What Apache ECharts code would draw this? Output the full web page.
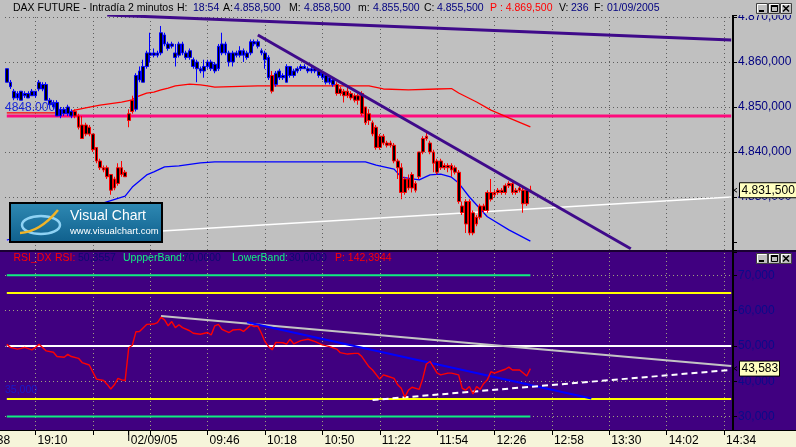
<!DOCTYPE html>
<html><head><meta charset="utf-8">
<script src="https://cdn.jsdelivr.net/npm/echarts@6/dist/echarts.min.js"></script>
<style>html,body{margin:0;padding:0;background:#c0c0c0;overflow:hidden}#c{width:796px;height:447px}</style>
</head><body><div id="c"></div>
<script>
// ---------------- DATA ----------------
const sessions = [
  { from: '18:54', bars: 34 },   // 01/09/2005 (2-minute bars)
  { from: '09:02', bars: 169 }   // 02/09/2005 (includes empty future slots)
];
const tickLabels = ['19:10','09:46','10:18','10:50','11:22','11:54','12:26','12:58','13:30','14:02','14:34'];
const minorTicks = ['19:42','09:14'];
const dateTick = { at: '09:02', label: '02/09/05' };
const edgeLabel = '18:38';

// [open, close, low, high]
const ohlc = [
 [4858.5,4855.5,4855.5,4858.5],[4855.5,4854.5,4854,4856],[4853.5,4852,4851.5,4854],[4852,4853,4851.5,4853.5],[4853.5,4851.5,4851.5,4853.5],
 [4852.5,4853,4852,4853.5],[4853,4852,4852,4853.5],[4852.5,4853.5,4852.5,4854],[4853.5,4852.5,4852,4853.5],[4854,4855.5,4853.5,4856],
 [4855,4854,4853.5,4855.5],[4855,4851.5,4851.5,4855.5],[4851.5,4850.5,4850,4852],[4851,4850,4849.5,4851.5],[4851,4848,4848,4851.5],
 [4848,4849.5,4847.5,4850],[4849.5,4848.5,4848,4850],[4848.5,4850,4848,4850.5],[4849,4848,4847.5,4849.5],[4848,4849,4847.5,4849.5],
 [4848,4845.5,4845,4848.5],[4846,4843,4843,4848],[4846,4844,4843.5,4846.5],[4845.5,4844,4843.5,4846],[4844,4840.5,4840,4844],
 [4841,4838,4837.5,4841],[4838,4836.5,4836,4838.5],[4836.5,4836,4835.5,4837],[4836.5,4834.5,4834,4837],[4835,4831.5,4830.5,4835],
 [4832,4834,4831.5,4834.5],[4833,4836.5,4832.5,4837.5],[4836.5,4835,4834.5,4838],[4835.5,4834.5,4834.5,4836],
 [4848.5,4847,4845.5,4849.5],[4849,4851.5,4848.5,4852.5],[4849.5,4857,4849,4857.5],[4856,4858,4855.5,4859],[4855.5,4859,4855.5,4860.5],
 [4859,4862,4858.5,4862.5],[4862,4861.5,4860,4866.5],[4861.5,4862,4861,4863],[4862,4861.5,4861,4862.5],[4862,4866.5,4861.5,4868],
 [4866,4864,4863.5,4866.5],[4864,4863,4862.5,4864.5],[4863.5,4864,4863,4864.5],[4862,4861,4859,4864],[4861.5,4864,4861,4864.5],
 [4864,4862,4861.5,4864.5],[4862,4861,4860.5,4862.5],[4861,4862.5,4860.5,4863],[4860.5,4859,4858.5,4861],[4860,4858.5,4855.5,4860.5],
 [4858.5,4858,4857.5,4859],[4858,4859,4856.5,4860.5],[4859,4860,4858.5,4860.5],[4860,4858.5,4858,4860.5],[4858,4859.5,4857.5,4860],
 [4858.5,4863.5,4858,4864],[4862,4864,4861.5,4866.5],[4864,4862,4861.5,4864.5],[4862,4860,4859,4862.5],[4860,4862,4859,4862.5],
 [4862,4861.5,4861,4862.5],[4861.5,4862.5,4861,4863.5],[4862.5,4861.5,4860,4863],[4862,4861,4860.5,4862.5],[4862,4864.5,4861.5,4865],
 [4864.5,4864,4863.5,4865],[4864.5,4863.5,4863,4865],[4862.5,4862,4861.5,4863],[4862,4860.5,4858.5,4862.5],[4861,4856.5,4856,4861.5],
 [4857,4853.5,4853,4858],[4855,4857.5,4854.5,4858],[4856.5,4858,4856,4858.5],[4857,4856.5,4856,4857.5],[4855.5,4859,4855.5,4859.5],
 [4859,4857,4856.5,4859],[4857,4858,4856.5,4858.5],[4858,4858.5,4857.5,4859],[4858.5,4859,4858,4859.5],[4859,4858.5,4858.5,4859.5],
 [4858.5,4858,4857.5,4859],[4858.5,4858,4857.5,4859],[4858,4858.5,4857.5,4859],[4858,4857,4856.5,4858.5],[4857.5,4856.5,4856,4858],
 [4857,4855.5,4855,4857.5],[4855.5,4856.5,4855,4857],[4856,4855,4854.5,4856.5],[4855,4853,4852.5,4855.5],[4853,4854,4852.5,4854.5],
 [4853.5,4852.5,4851,4854],[4852.5,4853.5,4852,4854.5],[4853,4852,4851.5,4853.5],[4852.5,4851.5,4851,4853],[4851.5,4852.5,4850.5,4853],
 [4853,4848.5,4848,4853.5],[4850,4846.5,4846,4850],[4847,4848.5,4846,4849.5],[4846.5,4844,4843.5,4847],[4845.5,4841,4840.5,4846],
 [4841,4843.5,4840.5,4844],[4843.5,4842,4841.5,4844],[4842,4841.5,4841,4842.5],[4841.5,4842,4841,4842.5],[4841.5,4838,4837.5,4842],
 [4838,4836.5,4834,4838.5],[4836.5,4831,4829.5,4837.5],[4831,4834,4830.5,4834.5],[4834,4832,4831.5,4835],[4832,4835,4831,4835.5],
 [4833,4831.5,4831,4833.5],[4834.5,4840,4834,4840],[4840,4843,4839.5,4843.5],[4843,4843.5,4842.5,4844.5],[4842,4840,4839.5,4842.5],
 [4840,4837.5,4835.5,4840.5],[4838,4835.5,4835,4838.5],[4836.5,4838,4836,4838.5],[4837,4836.5,4836,4837.5],[4836.5,4837,4835.5,4837.5],
 [4837,4836,4834.5,4837.5],[4836.5,4835.5,4835,4837],[4835.5,4829,4828.5,4836],[4828,4826.5,4826,4829],[4829,4824,4822,4829.5],
 [4829,4822,4821.5,4829.5],[4822,4826.5,4821.5,4827],[4825.5,4824,4823.5,4826],[4825.5,4828,4825,4828.5],[4828,4827,4826.5,4828.5],
 [4827,4831,4826.5,4831.5],[4831,4829.5,4829,4834],[4831,4830.5,4830,4831.5],[4831,4831.5,4830.5,4832],[4831.5,4831,4830.5,4832],
 [4831,4832.5,4830.5,4833],[4832.5,4833,4832,4833.5],[4833,4831,4830.5,4833.5],[4831,4831.5,4830.5,4832],[4831.5,4832,4831,4832.5],
 [4831.5,4828.5,4826.5,4832],[4828.5,4831.5,4828,4832],[4831.5,4831.5,4831,4832.5]
];
// bar index ranges drawn in red (others blue)
const redRanges = [[19,35],[74,74],[92,146]];

// [bar index, value] readings
const upperBand = [[0,4848.7],[17,4848.7],[19,4849.3],[22,4849.8],[26,4850.4],[32,4851.1],[35,4851.6],[36,4852.2],[39,4853.1],[41,4853.3],[43,4853.8],[45,4854.2],[47,4854.7],[51,4855.1],[54,4854.9],[56,4854.7],[58,4854.4],[65,4854.6],[70,4854.7],[101,4854.7],[105,4854],[112,4853.8],[120,4854],[124,4854.1],[126,4853.1],[131,4851.1],[135,4849.3],[140,4847.6],[146,4845.6]];
const lowerBand = [[0,4820.4],[6,4821.6],[15,4823.8],[23,4827.1],[27,4828.7],[33,4830.2],[35,4832.2],[39,4834.9],[41,4835.6],[44,4836.7],[48,4836.9],[54,4837.6],[58,4837.8],[100,4837.8],[103,4837.1],[108,4836.2],[110,4834.4],[115,4833.8],[118,4834.9],[121,4835.1],[124,4834.4],[126,4833.1],[129,4830],[134,4825.6],[140,4822.7],[146,4820.2]];
const longTrend = [[0,4820.4],[202,4830]];
const levelLine = 4848;
const resistance1 = [[70,4866],[174,4818.5]];
const resistance2 = [[28,4870.45],[202,4864.9]];
const priceTicks = [4830,4840,4850,4860,4870];
const lastClose = 4831.5;

const rsi = [[0,50.5],[1,49.6],[3,49.1],[4,49.3],[5,49.6],[7,48.9],[8,49.6],[9,50.5],[11,48.6],[13,48.2],[14,47],[16,46.8],[17,47.6],[18,47],[20,46.5],[21,45.3],[23,44.6],[25,40.6],[27,40.2],[28,39.1],[29,37.8],[30,39],[31,40.8],[32,40.4],[33,40.2],[34,49.5],[35,50.2],[36,54],[37,54.1],[39,56.1],[41,56.2],[42,56.6],[43,58.1],[44,57.4],[45,55.7],[46,56.9],[47,55.2],[48,56],[49,55.2],[51,54.3],[52,53.6],[54,53.3],[56,53.8],[57,53.1],[58,55.7],[59,56.1],[60,54.7],[62,53.8],[63,54.5],[65,54.7],[66,54.1],[68,55.9],[69,55.5],[70,55.6],[71,53.6],[72,51.2],[73,49.8],[74,48.9],[75,51],[77,50.9],[78,50.5],[79,51.9],[80,50.6],[82,51.5],[84,51.9],[86,51.2],[88,50.3],[90,49.8],[92,49.1],[93,48.1],[95,47.7],[97,47.9],[98,47.9],[99,47],[101,44.1],[102,43.2],[104,40.6],[105,41.8],[106,41.5],[108,40.8],[109,39],[110,38],[111,35.5],[112,37.5],[113,38.3],[115,37.7],[116,40.8],[117,44.9],[118,45.6],[119,44],[120,42.3],[121,41.8],[123,42.3],[124,42.3],[126,41.8],[127,38],[128,37.5],[129,38.5],[130,36.4],[131,38.5],[132,37.7],[133,39.4],[134,40.4],[135,42.7],[136,42.3],[137,42.7],[139,43.4],[140,44],[141,43.2],[143,43.2],[145,41.5],[146,43.583]];
const rsiUpper = [[0,70],[146,70]];
const rsiLower = [[0,30],[146,30]];
const rsiLevels = { yellowHi: 65, mid: 50, yellowLo: 35 };
const rsiGrayTrend = [[43,58.5],[202,44.3]];
const rsiBlueTrend = [[67,56.7],[163,35.1]];
const rsiWhiteTrend = [[102,34.7],[202,43.2]];
const rsiTicks = [30,40,50,60,70];
const lastRsi = 43.583;

// ---------------- BUILD ----------------
function buildCategories() {
  const out = [];
  sessions.forEach(s => {
    const [h, m] = s.from.split(':').map(Number);
    const t0 = h * 60 + m;
    for (let k = 0; k < s.bars; k++) {
      const t = t0 + 2 * k;
      out.push(String(Math.floor(t / 60)).padStart(2, '0') + ':' + String(t % 60).padStart(2, '0'));
    }
  });
  return out;
}
const categories = buildCategories();
const idxOf = t => categories.indexOf(t);
const labelMap = {};
tickLabels.forEach(t => labelMap[idxOf(t)] = t);
labelMap[idxOf(dateTick.at)] = dateTick.label;
const tickSet = new Set([...tickLabels, ...minorTicks, dateTick.at].map(idxOf));
const gridCats = [...tickLabels, ...minorTicks];

const FONT = "'Liberation Sans', Arial, sans-serif";
const NAVY = '#000080';
// Spanish style number: thousands '.', decimals ','
const fmtNum = (v, dec) => {
  const s = v.toFixed(dec);
  let [ip, dp] = s.split('.');
  if (ip.length > 3) ip = ip.slice(0, -3) + '.' + ip.slice(-3);
  return dp ? ip + ',' + dp : ip;
};
const isRed = i => redRanges.some(([a, b]) => i >= a && i <= b);
const candleItems = ohlc.map((v, i) => {
  const c = isRed(i) ? '#ff0000' : '#0000ff';
  return { value: v, itemStyle: { color: '#000', color0: '#000', borderColor: c, borderColor0: c, borderWidth: 1 } };
});
const flat = (v) => [[0, v], [categories.length - 1, v]];

const lineS = (name, data, color, width, xi, z, extra) => Object.assign({
  name, type: 'line', data, xAxisIndex: xi, yAxisIndex: xi, symbol: 'none', silent: true, z,
  lineStyle: { color, width }, itemStyle: { color }
}, extra || {});

const chart = echarts.init(document.getElementById('c'), null, { width: 796, height: 447 });

const option = {
  animation: false,
  backgroundColor: '#c0c0c0',
  grid: [
    { left: 5, top: 15, width: 728, height: 235 },
    { left: 5, top: 252, width: 728, height: 178 }
  ],
  xAxis: [
    { type: 'category', gridIndex: 0, data: categories, boundaryGap: true,
      axisLine: { show: false }, axisTick: { show: false }, axisLabel: { show: false }, splitLine: { show: false } },
    { type: 'category', gridIndex: 1, data: categories, boundaryGap: true, position: 'bottom',
      axisLine: { show: false },
      axisTick: { show: true, alignWithLabel: true, interval: (i) => tickSet.has(i), length: 5, lineStyle: { color: '#000', width: 1 } },
      axisLabel: { show: true, interval: (i) => labelMap[i] !== undefined, formatter: (v, i) => labelMap[i] || '',
        color: '#000', fontSize: 12, fontFamily: FONT, align: 'left', margin: 5, padding: [0, 0, 0, 2] },
      splitLine: { show: false } }
  ],
  yAxis: [
    { type: 'value', gridIndex: 0, position: 'right', min: 4818.22, max: 4870.44,
      axisLine: { show: true, lineStyle: { color: '#000', width: 2 } },
      axisTick: { show: true, length: 4, lineStyle: { color: '#000' } },
      axisLabel: { color: NAVY, fontSize: 12, fontFamily: FONT, margin: 5,
        formatter: v => (priceTicks.indexOf(Math.round(v)) >= 0 && Math.abs(v - Math.round(v)) < 1e-6) ? fmtNum(v, 3) : '' },
      splitLine: { show: false } },
    { type: 'value', gridIndex: 1, position: 'right', min: 26.2, max: 76.6,
      axisLine: { show: true, lineStyle: { color: '#000', width: 2 } },
      axisTick: { show: true, length: 4, lineStyle: { color: '#000' } },
      axisLabel: { color: '#0a0a8a', fontSize: 12, fontFamily: FONT, margin: 5,
        formatter: v => (rsiTicks.indexOf(Math.round(v)) >= 0 && Math.abs(v - Math.round(v)) < 1e-6) ? fmtNum(v, 3) : '' },
      splitLine: { show: false } }
  ],
  series: [
    // top panel
    lineS('level', flat(levelLine), '#ff0a7c', 3, 0, 2, {
      markLine: { silent: true, symbol: ['none', 'none'], label: { show: false }, z: 1, animation: false,
        lineStyle: { type: [1, 3], color: '#5e5e5e', width: 1 },
        data: [...priceTicks.map(v => ({ yAxis: v })), ...gridCats.map(t => ({ xAxis: t }))] }
    }),
    lineS('long trend', longTrend, '#ffffff', 1.5, 0, 2),
    lineS('upper band', upperBand, '#ff0000', 1.3, 0, 2),
    lineS('lower band', lowerBand, '#0000ff', 1.3, 0, 2),
    { name: 'DAX', type: 'candlestick', xAxisIndex: 0, yAxisIndex: 0, data: candleItems, barWidth: 3.2, z: 3, silent: true },
    lineS('trend 1', resistance1, '#3f0a8a', 3, 0, 4),
    lineS('trend 2', resistance2, '#3f0a8a', 3, 0, 4),
    // RSI panel
    lineS('UpperBand', rsiUpper, '#10ee80', 2, 1, 3, {
      markLine: { silent: true, symbol: ['none', 'none'], label: { show: false }, z: 1, animation: false,
        lineStyle: { type: [1, 3], color: '#a0a080', width: 1 },
        data: [...rsiTicks.map(v => ({ yAxis: v })), ...gridCats.map(t => ({ xAxis: t }))] }
    }),
    lineS('LowerBand', rsiLower, '#10ee80', 2, 1, 3),
    lineS('y65', flat(rsiLevels.yellowHi), '#ffff00', 2, 1, 2),
    lineS('y35', flat(rsiLevels.yellowLo), '#ffff00', 2, 1, 2),
    lineS('mid', flat(rsiLevels.mid), '#ffffff', 2, 1, 2),
    lineS('gray trend', rsiGrayTrend, '#c4c4c4', 2, 1, 3),
    lineS('blue trend', rsiBlueTrend, '#0000ff', 2, 1, 3),
    lineS('white trend', rsiWhiteTrend, '#ffffff', 2, 1, 3, { lineStyle: { color: '#ffffff', width: 2, type: [6, 4] } }),
    lineS('RSI', rsi, '#ff0000', 1.4, 1, 5)
  ]
};
chart.setOption(option);

// ---------------- OVERLAY TEXT / DECORATION ----------------
const yPix = (axis, v) => chart.convertToPixel({ yAxisIndex: axis }, v);
const xPix = (i) => chart.convertToPixel({ xAxisIndex: 1 }, i);
const g = [];
const txt = (x, y, text, fill, size, extra) => g.push(Object.assign({
  type: 'text', x, y, z: 51, silent: true,
  style: { text, fill, font: size + 'px ' + FONT, verticalAlign: 'middle', align: 'left' }
}, extra || {}));

// panel backgrounds
g.push({ type: 'rect', shape: { x: 0, y: 250, width: 796, height: 2 }, style: { fill: '#1a0033' }, z: -1, silent: true });
g.push({ type: 'rect', shape: { x: 0, y: 252, width: 796, height: 178 }, style: { fill: '#400080' }, z: -1, silent: true });
g.push({ type: 'rect', shape: { x: 0, y: 430, width: 796, height: 1 }, style: { fill: '#000' }, z: -1, silent: true });
g.push({ type: 'rect', shape: { x: 0, y: 431, width: 796, height: 16 }, style: { fill: '#f6f5da' }, z: -1, silent: true });
// header band
g.push({ type: 'rect', shape: { x: 0, y: 0, width: 796, height: 15 }, style: { fill: '#c0c0c0' }, z: 50, silent: true });

const BLACK = '#000';
[[13,'DAX FUTURE - Intradía 2 minutos',BLACK],[177,'H:',BLACK],[193,'18:54',NAVY],[223,'A:',BLACK],[234,'4.858,500',NAVY],
 [289,'M:',BLACK],[304,'4.858,500',NAVY],[358,'m:',BLACK],[373,'4.855,500',NAVY],[424,'C:',BLACK],[437,'4.855,500',NAVY],
 [490,'P : 4.869,500','#ff0000'],[559,'V:',BLACK],[571,'236',NAVY],[594,'F:',BLACK],[607,'01/09/2005',NAVY]]
 .forEach(([x, t, c]) => txt(x, 8, t, c, 10.5));

const GREEN = '#10f080';
[[13.5,'RSI_DX','#ff0000'],[55,'RSI:','#ff0000'],[78,'50,3557','#0a0a70'],[123,'UppperBand:',GREEN],[183,'70,0000','#0a0a70'],
 [232,'LowerBand:',GREEN],[289,'30,0000','#0a0a70'],[335,'P: 142,3944','#ff0000']]
 .forEach(([x, t, c]) => txt(x, 258.5, t, c, 10.5));

function winButtons(y) {
  [756, 768, 780].forEach(x => {
    g.push({ type: 'rect', shape: { x: x + 0.5, y: y + 0.5, width: 11, height: 10 }, style: { fill: '#c0c0c0', stroke: '#404040', lineWidth: 1 }, z: 52, silent: true });
    g.push({ type: 'polyline', shape: { points: [[x + 1.5, y + 9.5], [x + 1.5, y + 1.5], [x + 10.5, y + 1.5]] }, style: { stroke: '#ffffff', lineWidth: 1, fill: null }, z: 53, silent: true });
  });
  g.push({ type: 'rect', shape: { x: 759, y: y + 7, width: 5, height: 2 }, style: { fill: '#000' }, z: 54, silent: true });
  g.push({ type: 'rect', shape: { x: 771.5, y: y + 2.5, width: 6, height: 6 }, style: { fill: null, stroke: '#000', lineWidth: 1 }, z: 54, silent: true });
  g.push({ type: 'rect', shape: { x: 771, y: y + 2, width: 7, height: 2 }, style: { fill: '#000' }, z: 54, silent: true });
  g.push({ type: 'line', shape: { x1: 783, y1: y + 2.5, x2: 789, y2: y + 8.5 }, style: { stroke: '#000', lineWidth: 1.6 }, z: 54, silent: true });
  g.push({ type: 'line', shape: { x1: 789, y1: y + 2.5, x2: 783, y2: y + 8.5 }, style: { stroke: '#000', lineWidth: 1.6 }, z: 54, silent: true });
}
winButtons(3);
winButtons(253);

// level labels
txt(5, yPix(0, levelLine) - 8.5, levelLine.toFixed(3), '#1a28d8', 12, { z: 10 });
txt(5, yPix(1, rsiLevels.yellowLo) - 9, fmtNum(rsiLevels.yellowLo, 3), '#1818c8', 10.5, { z: 10 });

// last value tags
function tag(y, text, x0, w) {
  g.push({ type: 'polyline', shape: { points: [[737, y - 2], [734, y], [737, y + 2]] }, style: { stroke: '#000', lineWidth: 1, fill: null }, z: 60, silent: true });
  g.push({ type: 'rect', shape: { x: x0 + 0.5, y: y - 7.5, width: w, height: 15 }, style: { fill: '#ffffc0', stroke: '#000', lineWidth: 1 }, z: 60, silent: true });
  txt(x0 + 2.5, y + 0.5, text, '#000', 12, { z: 61 });
}
tag(yPix(0, lastClose), fmtNum(lastClose, 3), 739, 58);
tag(yPix(1, lastRsi), fmtNum(lastRsi, 3), 739, 40);

// date tick and cut-off left label
const xd = xPix(idxOf(dateTick.at));
g.push({ type: 'line', shape: { x1: xd, y1: 430, x2: xd, y2: 441 }, style: { stroke: '#000', lineWidth: 1 }, z: 5, silent: true });
const step = xPix(9) - xPix(8);
txt(xPix(idxOf('19:10')) - 16 * step + 2, 441, edgeLabel, '#000', 12, { z: 5 });

// Visual Chart logo
g.push({ type: 'rect', shape: { x: 10, y: 203, width: 152, height: 39 }, z: 60, silent: true,
  style: { stroke: '#000', lineWidth: 2, fill: { type: 'linear', x: 0, y: 0, x2: 0, y2: 1,
    colorStops: [{ offset: 0, color: '#2f8ab4' }, { offset: 1, color: '#0f5f8c' }] } } });
g.push({ type: 'ellipse', shape: { cx: 41, cy: 225, rx: 19, ry: 9 }, style: { fill: null, stroke: '#8ed2f4', lineWidth: 2.5 }, z: 61, silent: true });
g.push({ type: 'bezierCurve', shape: { x1: 20, y1: 233, x2: 58, y2: 210, cpx1: 40, cpy1: 232 }, style: { fill: null, stroke: '#f0b428', lineWidth: 2.5 }, z: 62, silent: true });
txt(70, 216, 'Visual Chart', '#ffffff', 14, { z: 62 });
txt(70, 231, 'www.visualchart.com', '#ffffff', 9.5, { z: 62 });

chart.setOption({ graphic: g });
</script></body></html>
